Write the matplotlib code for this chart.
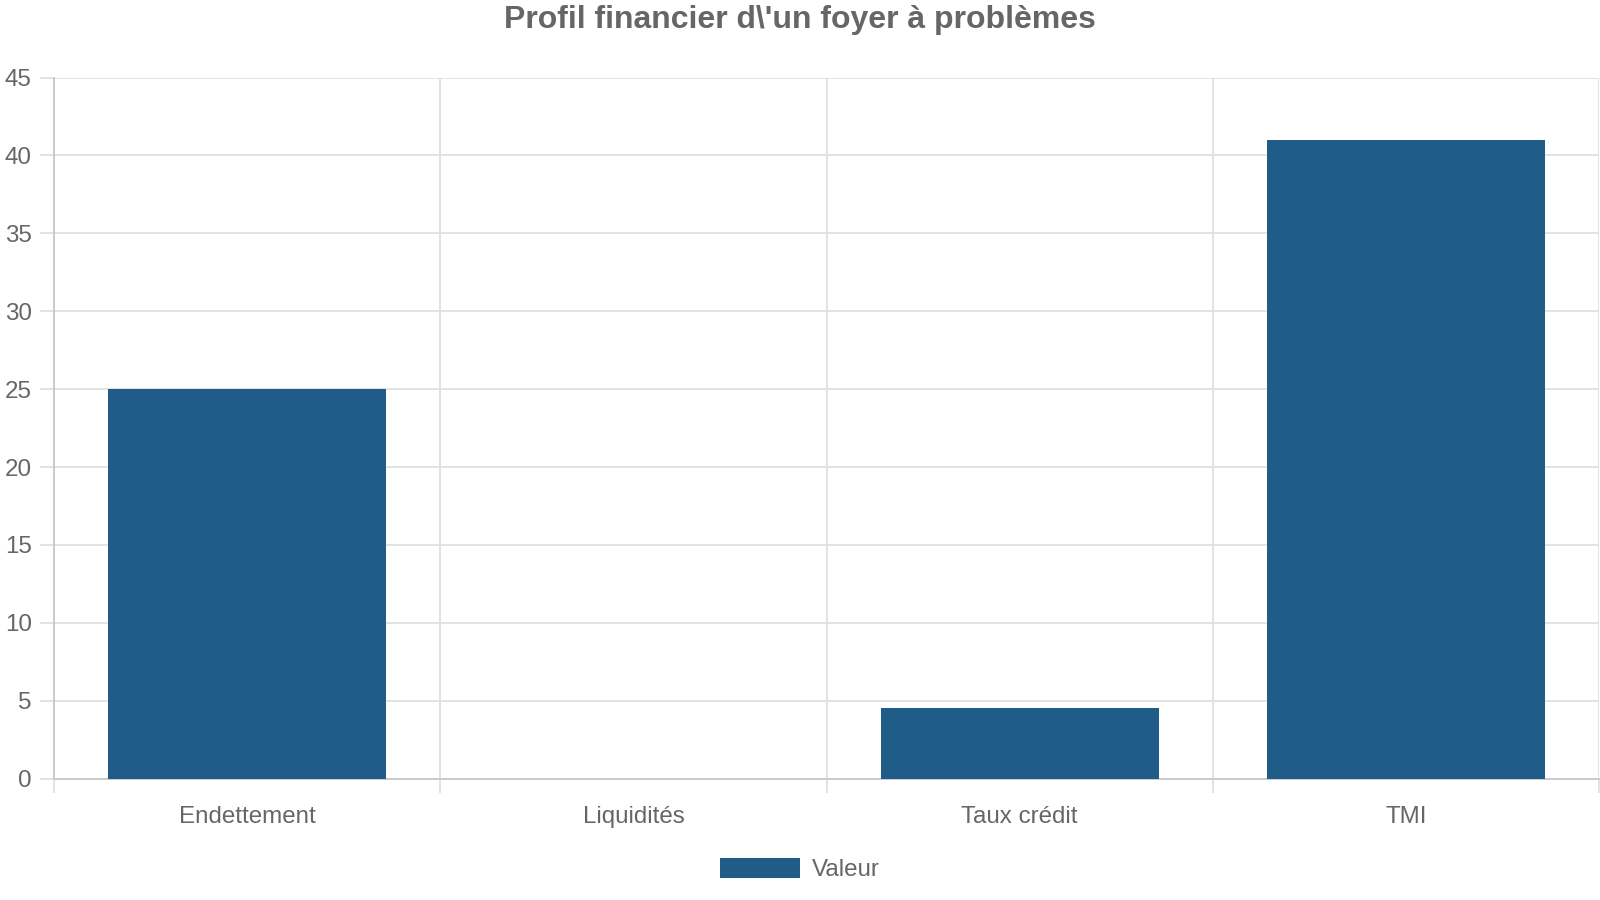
import matplotlib.pyplot as plt
from matplotlib.ticker import FixedLocator

# -----------------------------
# Data
# -----------------------------
categories = ["Endettement", "Liquidités", "Taux crédit", "TMI"]
values = [25, 0, 4.5, 41]
series_name = "Valeur"
y_ticks = [0, 5, 10, 15, 20, 25, 30, 35, 40, 45]

plt.rcParams['font.family'] = ['Liberation Sans', 'DejaVu Sans']

bar_color = "#1f5c87"
text_color = "#666666"
grid_color = "#e0e0e0"
axis_color = "#c8c8c8"

# layout measured on a 1568 x 882 view of the reference
W, H = 1568, 882

fig = plt.figure(figsize=(16, 9), dpi=100)
ax = fig.add_axes([53 / W, (H - 763) / H, (1567 - 53) / W, (763 - 76) / H])

x = list(range(len(categories)))
ax.bar(x, values, width=0.72, color=bar_color, label=series_name, zorder=3)

ax.set_xlim(-0.5, len(categories) - 0.5)
ax.set_ylim(0, 45)
ax.set_yticks(y_ticks)
ax.set_xticks(x)
ax.set_xticklabels(categories)

# vertical grid lines on category boundaries
ax.xaxis.set_minor_locator(FixedLocator([i - 0.5 for i in range(len(categories) + 1)]))
ax.grid(True, which="minor", axis="x", color=grid_color, linewidth=1.3, zorder=0)
ax.grid(True, which="major", axis="y", color=grid_color, linewidth=1.3, zorder=0)

ax.tick_params(axis="x", which="major", length=0, pad=20, labelsize=17.4, labelcolor=text_color)
ax.tick_params(axis="x", which="minor", length=10, width=1.3, color=grid_color)
ax.tick_params(axis="y", which="major", length=10, width=1.3, color=grid_color,
               pad=6, labelsize=17.4, labelcolor=text_color)

for side in ["top", "right"]:
    ax.spines[side].set_visible(False)
for side in ["left", "bottom"]:
    ax.spines[side].set_color(axis_color)
    ax.spines[side].set_linewidth(1.3)

fig.suptitle("Profil financier d\\'un foyer à problèmes", x=0.5, y=1 - 20 / H, va="center",
             fontsize=23, fontweight="bold", color=text_color)

leg = fig.legend(loc="center", bbox_to_anchor=(784 / W, 1 - 852 / H), frameon=False,
                 fontsize=17.4, handlelength=3.3, handleheight=0.95, handletextpad=0.5,
                 labelcolor=text_color)

plt.savefig("out.png")
plt.close()
